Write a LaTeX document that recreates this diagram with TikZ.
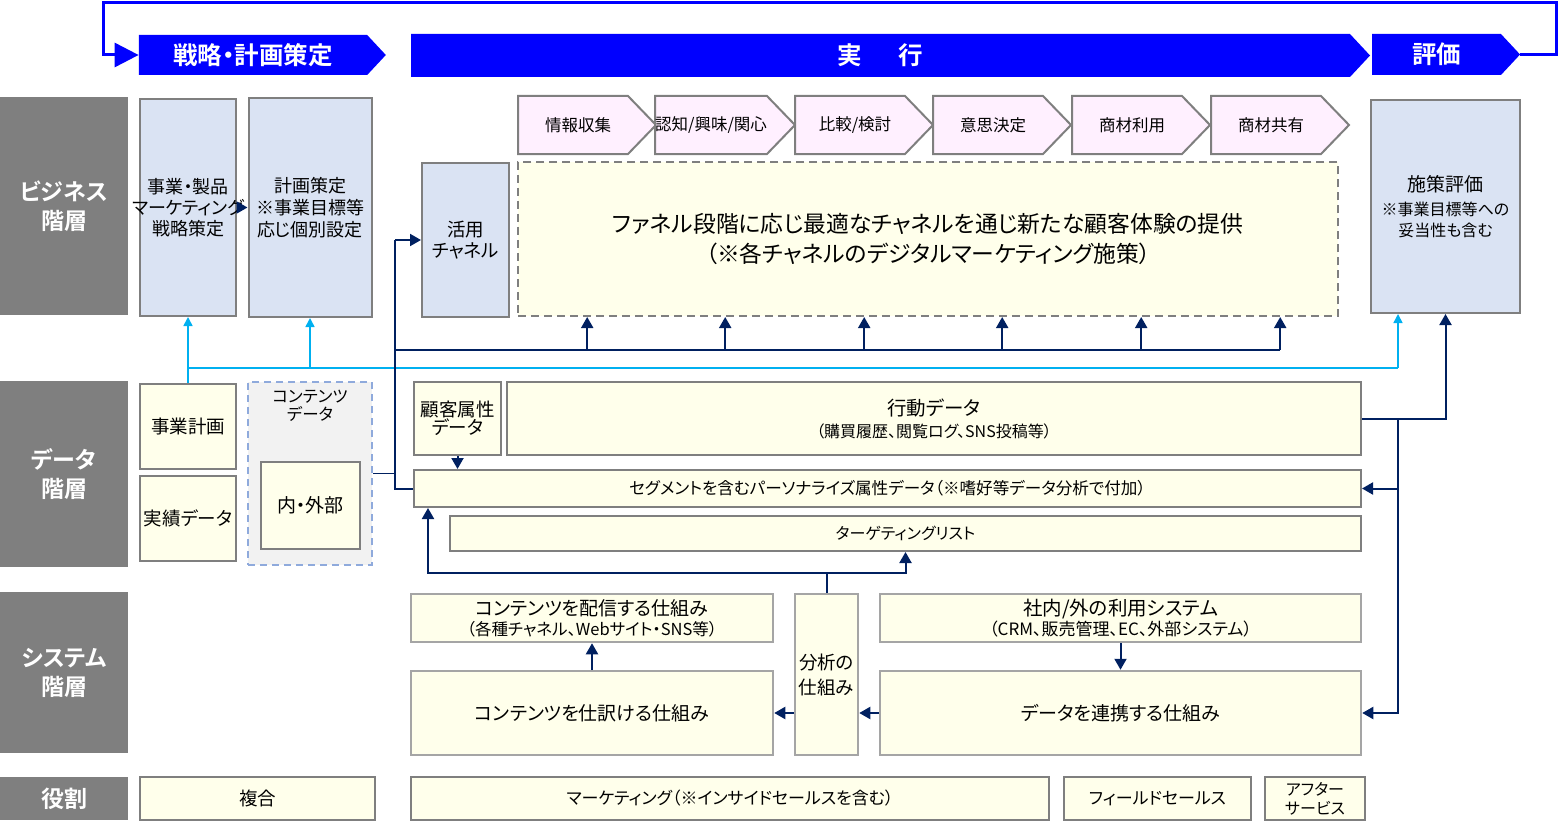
\documentclass[tikz,border=0pt]{standalone}
\usepackage{fontspec}
\setmainfont{Noto Sans CJK JP}[RawFeature=+palt, BoldFont={Noto Sans CJK JP Bold}]
\usetikzlibrary{arrows.meta,shapes.symbols,calc}
\definecolor{navy}{HTML}{002060}
\definecolor{phaseblue}{HTML}{0000FF}
\definecolor{cyanline}{HTML}{00B0F0}
\definecolor{layergray}{HTML}{7F7F7F}
\definecolor{edgegray}{HTML}{7F7F7F}
\definecolor{sysgray}{HTML}{A5A5A5}
\definecolor{bizblue}{HTML}{DAE3F3}
\definecolor{cream}{HTML}{FFFFEB}
\definecolor{pinkish}{HTML}{FFF0FF}
\definecolor{cdgray}{HTML}{F2F2F2}
\definecolor{cddash}{HTML}{8FAADC}

\begin{document}
\begin{tikzpicture}[x=1pt, y=-1pt,
  layer/.style={fill=layergray, text=white, align=center, inner sep=0pt,
                font=\fontsize{23}{29}\selectfont\bfseries},
  bluebox/.style={draw=edgegray, line width=2pt, fill=bizblue, align=center,
                inner sep=0pt, font=\fontsize{18.5}{21}\selectfont},
  ylbox/.style={draw=edgegray, line width=2pt, fill=cream, align=center,
                inner sep=0pt, font=\fontsize{18.5}{21}\selectfont},
  sysbox/.style={ylbox, draw=sysgray, line width=2.5pt},
  phase/.style={signal, signal to=east, signal pointer angle=94, fill=phaseblue,
                text=white, inner sep=0pt, font=\fontsize{24.5}{28}\selectfont\bfseries},
  funnel/.style={signal, signal to=east, signal pointer angle=92, draw=edgegray,
                line width=2pt, fill=pinkish, inner sep=0pt, minimum width=138pt,
                minimum height=58pt, font=\fontsize{16.5}{20}\selectfont},
  nvline/.style={draw=navy, line width=2pt},
  nvarr/.style={nvline, -{Triangle[length=11pt,width=12pt]}},
  cyline/.style={draw=cyanline, line width=1.6pt},
  cyarr/.style={cyline, -{Triangle[length=9pt,width=9pt]}},
  fb/.style={draw=phaseblue, line width=3pt, -{Triangle[length=24pt,width=24pt]}}
]
\useasboundingbox (0,0) rectangle (1560,832);

\node[phase, minimum width=247pt, minimum height=40pt] (senryaku) at (253,55) {戦略・計画策定};
\node[phase, minimum width=959pt, minimum height=43pt] (jikko) at (880.5,55.5) {実\hspace{1.5em}行};
\node[phase, minimum width=148pt, minimum height=41pt] (hyoka) at (1436.5,54.5) {評価};
\coordinate (loopR) at (1556,3);
\coordinate (loopL) at (103,3);
\draw[fb] (hyoka.east) -| (loopR) -- (loopL) |- (senryaku.west);

\node[layer, minimum width=128pt, minimum height=218pt] (lbiz) at (64,206) {ビジネス\\階層};
\node[layer, minimum width=128pt, minimum height=186pt] (ldata) at (64,474) {データ\\階層};
\node[layer, minimum width=128pt, minimum height=161pt] (lsys) at (64,672.5) {システム\\階層};
\node[layer, minimum width=128pt, minimum height=43pt] (lrole) at (64,798.5) {役割};

\node[bluebox, minimum width=96pt, minimum height=217pt, font=\fontsize{18}{21}\selectfont] (jigyo) at (188,207.5) {事業・製品\\\makebox[96pt]{マーケティング}\\戦略策定};
\node[bluebox, minimum width=123pt, minimum height=219pt, font=\fontsize{18}{22}\selectfont] (keikaku) at (310,207.5) {計画策定\\※事業目標等\\応じ個別設定};
\node[bluebox, minimum width=87pt, minimum height=154pt] (katsuyo) at (465.5,240) {活用\\チャネル};
\node[bluebox, minimum width=149pt, minimum height=213pt, font=\fontsize{19}{21}\selectfont] (shisaku) at (1445.5,206.5) {施策評価\\[3pt]{\fontsize{16}{20}\selectfont ※事業目標等への}\\{\fontsize{16}{20}\selectfont 妥当性も含む}};

\node[funnel] (f1) at (573,125) {\hspace{10pt}情報収集};
\node[funnel] (f2) at (711,125) {認知/興味/関心};
\node[funnel] (f3) at (850,125) {\hspace{10pt}比較/検討};
\node[funnel] (f4) at (988,125) {\hspace{10pt}意思決定};
\node[funnel] (f5) at (1127,125) {\hspace{10pt}商材利用};
\node[funnel] (f6) at (1266,125) {\hspace{10pt}商材共有};

\node[ylbox, dash pattern=on 8pt off 5pt, minimum width=820pt, minimum height=154pt, font=\fontsize{22.8}{30}\selectfont] (main) at (928,239)
  {ファネル段階に応じ最適なチャネルを通じ新たな顧客体験の提供\\（※各チャネルのデジタルマーケティング施策）};

\node[ylbox, minimum width=96pt, minimum height=85pt] (keikakudata) at (188,426.5) {事業計画};
\node[ylbox, minimum width=96pt, minimum height=85pt] (jisseki) at (188,518.5) {実績データ};
\node[draw=cddash, dash pattern=on 7pt off 5pt, line width=1.8pt, fill=cdgray, minimum width=124pt, minimum height=183pt] (cdata) at (310,473.5) {};
\node[align=center, font=\fontsize{16.5}{18}\selectfont, inner sep=0pt] (cdlabel) at (310,406) {コンテンツ\\データ};
\node[ylbox, minimum width=99pt, minimum height=87pt, font=\fontsize{19}{21}\selectfont] (naigai) at (310.5,505.5) {内・外部};

\node[ylbox, minimum width=87pt, minimum height=73pt, font=\fontsize{18.5}{18}\selectfont] (kokyaku) at (457.5,418.5) {顧客属性\\データ};
\node[ylbox, minimum width=854pt, minimum height=73pt, font=\fontsize{19.5}{22}\selectfont] (kodo) at (934,418.5) {行動データ\\{\fontsize{16}{18}\selectfont （購買履歴、閲覧ログ、SNS投稿等）}};
\node[ylbox, minimum width=947pt, minimum height=37pt, font=\fontsize{16.6}{20}\selectfont] (seg) at (887.5,488.5) {セグメントを含むパーソナライズ属性データ（※嗜好等データ分析で付加）};
\node[ylbox, minimum width=911pt, minimum height=35pt, font=\fontsize{16}{20}\selectfont] (target) at (905.5,533.5) {ターゲティングリスト};

\node[sysbox, minimum width=362pt, minimum height=48pt, font=\fontsize{19}{20}\selectfont] (haishin) at (592,618) {コンテンツを配信する仕組み\\{\fontsize{16.5}{17}\selectfont （各種チャネル、Webサイト・SNS等）}};
\node[sysbox, minimum width=362pt, minimum height=84pt, font=\fontsize{19}{22}\selectfont] (shiwake) at (592,713) {コンテンツを仕訳ける仕組み};
\node[sysbox, minimum width=63pt, minimum height=161pt, font=\fontsize{18.5}{25}\selectfont] (bunseki) at (826.5,674.5) {分析の\\仕組み};
\node[sysbox, minimum width=481pt, minimum height=48pt, font=\fontsize{19.5}{20}\selectfont] (riyo) at (1120.5,618) {社内/外の利用システム\\{\fontsize{17}{17}\selectfont （CRM、販売管理、EC、外部システム）}};
\node[sysbox, minimum width=481pt, minimum height=84pt, font=\fontsize{19}{22}\selectfont] (renkei) at (1120.5,713) {データを連携する仕組み};

\node[ylbox, minimum width=235pt, minimum height=43pt] (fukugo) at (257.5,798.5) {複合};
\node[ylbox, minimum width=638pt, minimum height=43pt, font=\fontsize{17}{21}\selectfont] (mkt) at (730,798.5) {マーケティング（※インサイドセールスを含む）};
\node[ylbox, minimum width=187pt, minimum height=43pt, font=\fontsize{17}{21}\selectfont] (field) at (1157.5,798.5) {フィールドセールス};
\node[ylbox, minimum width=100pt, minimum height=43pt, font=\fontsize{16}{19}\selectfont] (after) at (1315,798.5) {アフター\\サービス};

\draw[nvarr] (jigyo.east) -- (keikaku.west);

\coordinate (cyL) at (188,368);
\coordinate (cyR) at (1398,368);
\draw[cyline] (keikakudata.north) -- (cyL) -- (cyR);
\draw[cyarr] (cyL) -- (jigyo.south);
\draw[cyarr] (keikaku.south |- cyL) -- (keikaku.south);
\draw[cyarr] (cyR) -- (cyR |- shisaku.south);

\coordinate (jTop) at (395,240);
\coordinate (jMid) at (395,350);
\coordinate (jLow) at (395,489);
\coordinate (a1) at ($(f1.west)!.5!(f1.east)$);
\coordinate (a2) at ($(f2.west)!.5!(f2.east)$);
\coordinate (a3) at ($(f3.west)!.5!(f3.east)$);
\coordinate (a4) at ($(f4.west)!.5!(f4.east)$);
\coordinate (a5) at ($(f5.west)!.5!(f5.east)$);
\coordinate (a6) at ($(f6.west)!.5!(f6.east)$);
\draw[nvline] (seg.west |- jLow) -- (jLow) -- (jTop);
\draw[nvarr] (jTop) -- (katsuyo.west);
\draw[nvline, line width=1.5pt] (cdata.east) -- (cdata.east -| jLow);
\draw[nvline] (jMid) -- (a6 |- jMid);
\draw[nvarr] (a1 |- jMid) -- (a1 |- main.south);
\draw[nvarr] (a2 |- jMid) -- (a2 |- main.south);
\draw[nvarr] (a3 |- jMid) -- (a3 |- main.south);
\draw[nvarr] (a4 |- jMid) -- (a4 |- main.south);
\draw[nvarr] (a5 |- jMid) -- (a5 |- main.south);
\draw[nvarr] (a6 |- jMid) -- (a6 |- main.south);

\draw[nvarr] (kokyaku.south) -- (kokyaku.south |- seg.north);
\draw[nvarr] (kodo.east) -| (shisaku.south);
\coordinate (jRight) at (1398,418.5);
\draw[nvarr] (jRight) |- (renkei.east);
\draw[nvarr] (jRight |- seg.east) -- (seg.east);

\coordinate (jAna) at (826.5,573);
\draw[nvline] (bunseki.north) -- (jAna);
\draw[nvarr] (jAna) -| ([xshift=15pt]seg.south west);
\draw[nvarr] (jAna) -| (target.south);
\draw[nvarr] (shiwake.north) -- (haishin.south);
\draw[nvarr] (bunseki.west |- shiwake.east) -- (shiwake.east);
\draw[nvarr] (renkei.west) -- (renkei.west -| bunseki.east);
\draw[nvarr] (riyo.south) -- (renkei.north);
\end{tikzpicture}
\end{document}
